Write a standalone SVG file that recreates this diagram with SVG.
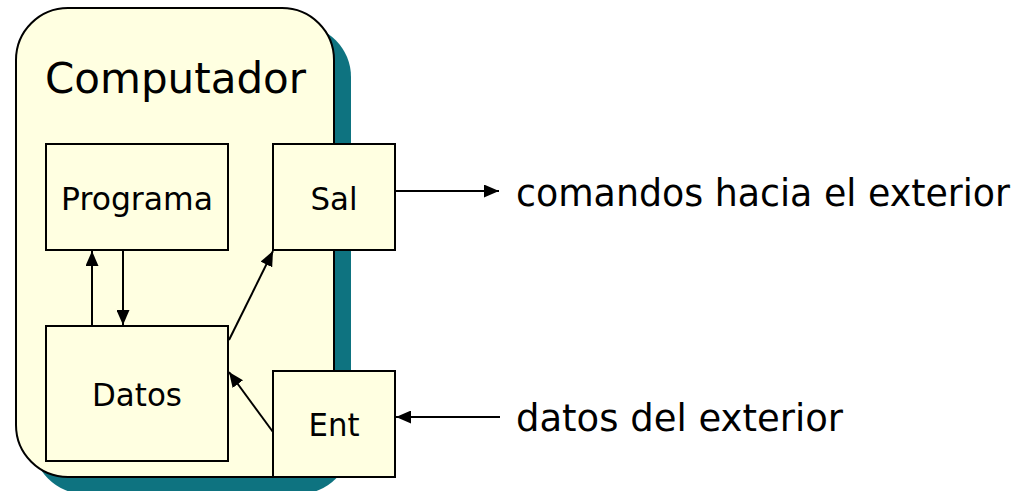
<svg xmlns="http://www.w3.org/2000/svg" width="1027" height="491" viewBox="0 0 1027 491">
<style>
text{font-family:"DejaVu Sans","Liberation Sans",sans-serif;fill:#000}
.box{fill:#FFFFE1;stroke:#000;stroke-width:2}
.lbl{font-size:32px;text-anchor:middle}
.ext{font-size:37px}
.con line{stroke:#000;stroke-width:2;fill:none}
</style>
<defs>
<marker id="ah" viewBox="0 0 15 13" refX="15" refY="6.5" markerWidth="15" markerHeight="13" markerUnits="userSpaceOnUse" orient="auto">
<path d="M0,0 L15,6.5 L0,13 z" fill="#000"/>
</marker>
</defs>
<rect width="1027" height="491" fill="#fff"/>
<g id="computador">
<rect x="33" y="25" width="318" height="469" rx="52" ry="52" fill="#0E7380"/>
<rect x="16" y="8" width="318" height="469" rx="52" ry="52" class="box"/>
<text x="45" y="93" style="font-size:42px">Computador</text>
</g>
<g id="programa">
<rect x="46" y="144" width="182" height="106" class="box"/>
<text x="137" y="210" class="lbl" textLength="152" lengthAdjust="spacingAndGlyphs">Programa</text>
</g>
<g id="sal">
<rect x="273" y="144" width="122" height="106" class="box"/>
<text x="334" y="210" class="lbl" textLength="47" lengthAdjust="spacingAndGlyphs">Sal</text>
</g>
<g id="datos">
<rect x="46" y="326" width="182" height="135" class="box"/>
<text x="137" y="406" class="lbl" textLength="90" lengthAdjust="spacingAndGlyphs">Datos</text>
</g>
<g id="ent">
<rect x="273" y="371" width="122" height="106" class="box"/>
<text x="334" y="436" class="lbl" textLength="51" lengthAdjust="spacingAndGlyphs">Ent</text>
</g>
<g id="connectors" class="con">
<line x1="92" y1="326" x2="92" y2="251" marker-end="url(#ah)"/>
<line x1="123" y1="250" x2="123" y2="325" marker-end="url(#ah)"/>
<line x1="229" y1="340" x2="273" y2="251" marker-end="url(#ah)"/>
<line x1="273" y1="432" x2="229" y2="372" marker-end="url(#ah)"/>
<line x1="395" y1="191" x2="499" y2="191" marker-end="url(#ah)"/>
<line x1="500" y1="417" x2="396" y2="417" marker-end="url(#ah)"/>
</g>
<g id="out-label"><text x="516" y="206" class="ext" textLength="494" lengthAdjust="spacingAndGlyphs">comandos hacia el exterior</text></g>
<g id="in-label"><text x="516" y="431" class="ext" textLength="327" lengthAdjust="spacingAndGlyphs">datos del exterior</text></g>
</svg>
